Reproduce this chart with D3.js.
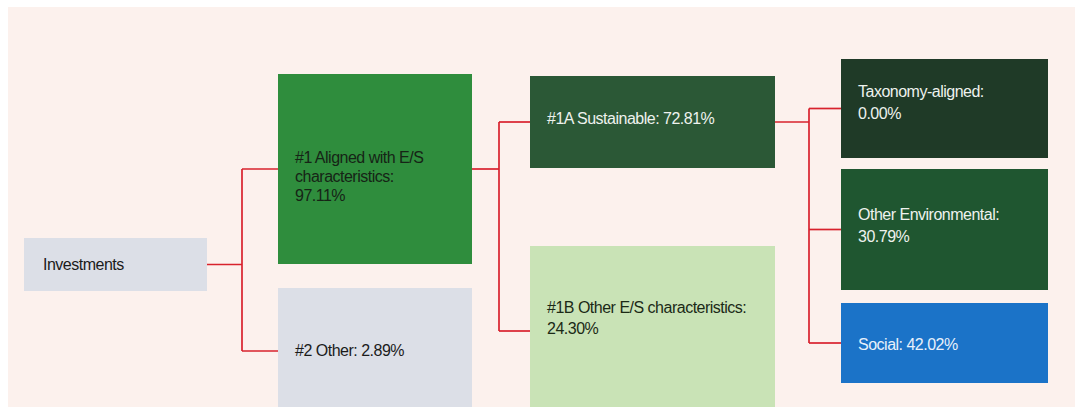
<!DOCTYPE html>
<html>
<head>
<meta charset="utf-8">
<script src="https://cdn.jsdelivr.net/npm/d3@7"></script>
<style>
  html, body { margin: 0; padding: 0; background: #ffffff; }
  svg { display: block; }
</style>
</head>
<body>
<div id="chart"></div>
<script>
// asset allocation tree
const nodeIds = ["inv", "n1", "n2", "n1a", "n1b", "tax", "env", "soc"];
const nodeParents = [null, "inv", "inv", "n1", "n1", "n1a", "n1a", "n1a"];
const nodeLabels = [
  ["Investments"],
  ["#1 Aligned with E/S", "characteristics:"],
  ["#2 Other:"],
  ["#1A Sustainable:"],
  ["#1B Other E/S characteristics:"],
  ["Taxonomy-aligned:"],
  ["Other Environmental:"],
  ["Social:"]
];
const nodeValues = [null, 97.11, 2.89, 72.81, 24.30, 0.00, 30.79, 42.02];
// value on its own line or on the last label line
const valueOwnLine = [false, true, false, false, true, true, true, false];

// layout (kept apart from the data)
const W = 1075, H = 407;
const levelX = d3.scaleOrdinal().domain([0, 1, 2, 3]).range([24, 278, 530, 841]);
const levelW = d3.scaleOrdinal().domain([0, 1, 2, 3]).range([183, 194, 245, 207]);
const joinX = d3.scaleOrdinal().domain([0, 1, 2]).range([242, 499, 809]);
const boxTop = { inv: 238, n1: 74, n2: 288, n1a: 76, n1b: 246, tax: 59, env: 169, soc: 303 };
const boxBottom = { inv: 291, n1: 264, n2: 414, n1a: 168, n1b: 416, tax: 158, env: 290, soc: 383 };
const firstBase = { inv: 270, n1: 163, n2: 356, n1a: 124, n1b: 313, tax: 97, env: 220, soc: 350 };
const lineGap = { n1: 19, n1b: 21, tax: 22, env: 22 };
const fills = { inv: "#dcdfe7", n1: "#2f8d3d", n2: "#dcdfe7", n1a: "#2b5836",
  n1b: "#c9e3b6", tax: "#1f3a27", env: "#1f5630", soc: "#1b73c8" };
const textCol = { inv: "#1b1b1b", n1: "#162416", n2: "#1b1b1b", n1a: "#eef2ee",
  n1b: "#1b2a16", tax: "#eef2ee", env: "#eef2ee", soc: "#e8f0fb" };

const table = nodeIds.map((id, i) => ({
  id: id,
  parent: nodeParents[i],
  label: nodeLabels[i],
  value: nodeValues[i],
  own: valueOwnLine[i]
}));
const root = d3.stratify().id(d => d.id).parentId(d => d.parent)(table);

const svg = d3.select("#chart").append("svg")
  .attr("width", W)
  .attr("height", H);

svg.append("rect")
  .attr("x", 8).attr("y", 7)
  .attr("width", W - 8).attr("height", H - 7)
  .attr("fill", "#fcf1ed");

const fmt = d3.format(".2f");
const nodes = root.descendants();
const box = d => ({
  x: levelX(d.depth),
  y: boxTop[d.id],
  w: levelW(d.depth),
  h: boxBottom[d.id] - boxTop[d.id]
});

// connectors
const links = svg.append("g")
  .attr("fill", "none")
  .attr("stroke", "#d8222d")
  .attr("stroke-width", 1.7);

nodes.filter(d => d.children).forEach(p => {
  const pb = box(p);
  const py = pb.y + pb.h / 2;
  const jx = joinX(p.depth);
  const ys = p.children.map(c => { const b = box(c); return b.y + b.h / 2; });
  links.append("line")
    .attr("x1", pb.x + pb.w).attr("x2", jx)
    .attr("y1", py).attr("y2", py);
  links.append("line")
    .attr("x1", jx).attr("x2", jx)
    .attr("y1", d3.min(ys.concat(py))).attr("y2", d3.max(ys.concat(py)));
  p.children.forEach((c, i) => {
    links.append("line")
      .attr("x1", jx).attr("x2", levelX(c.depth))
      .attr("y1", ys[i]).attr("y2", ys[i]);
  });
});

// boxes
const g = svg.selectAll(".node")
  .data(nodes)
  .enter()
  .append("g")
  .attr("class", "node");

g.append("rect")
  .attr("x", d => box(d).x)
  .attr("y", d => box(d).y)
  .attr("width", d => box(d).w)
  .attr("height", d => box(d).h)
  .attr("fill", d => fills[d.id]);

g.each(function (d) {
  let lines = d.data.label.slice();
  if (d.data.value !== null) {
    const v = fmt(d.data.value) + "%";
    if (d.data.own) lines.push(v);
    else lines[lines.length - 1] += " " + v;
  }
  const t = d3.select(this).append("text")
    .attr("font-family", "'Liberation Sans', Arial, sans-serif")
    .attr("font-size", 16)
    .attr("letter-spacing", "-0.5px")
    .attr("fill", textCol[d.id]);
  lines.forEach((l, i) => {
    t.append("tspan")
      .attr("x", box(d).x + (d.depth === 0 ? 19 : 17))
      .attr("y", firstBase[d.id] + i * (lineGap[d.id] || 20))
      .text(l);
  });
});
</script>
</body>
</html>
